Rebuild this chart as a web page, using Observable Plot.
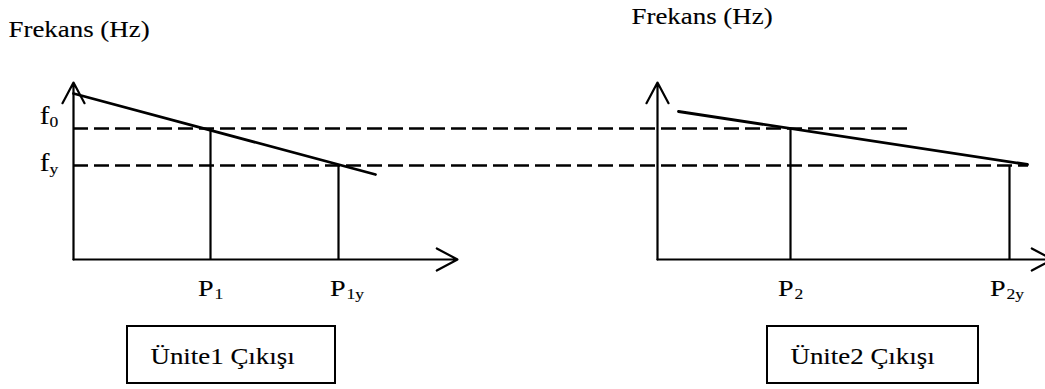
<!DOCTYPE html>
<html><head><meta charset="utf-8">
<script src="https://cdn.jsdelivr.net/npm/d3@7"></script>
<script src="https://cdn.jsdelivr.net/npm/@observablehq/plot@0.6"></script>
<style>html,body{margin:0;padding:0;background:#fff;overflow:hidden}</style>
</head><body><div id="chart"></div><script>
// ---- diagram data (power units along x, frequency units along y; each unit has its own origin) ----
const unitNames = ["Ünite1 Çıkışı", "Ünite2 Çıkışı"];
const axisOrigin = [0, 584];          // power-axis origin of each unit
const axisLength = [384, 395];        // length of each power axis
const axisTop = 177;                  // top of each frequency axis
const yLabel = "Frekans (Hz)";

const freqMain = ["f", "f"];
const freqSubs = ["0", "y"];
const freqValues = [131, 94];         // f0, fy
const freqLineEnd = [840, 955];       // how far each dashed level reaches

const powerUnit = [0, 0, 1, 1];
const powerSubs = ["1", "1y", "2", "2y"];
const powerValues = [137, 265, 133, 352]; // P1, P1y, P2, P2y (relative to own origin)
const powerLevel = [0, 1, 0, 1];          // index into freqValues

const droopUnit = [0, 0, 1, 1];
const droopP = [0, 302, 21, 370];
const droopF = [166, 85, 148, 95];

// ---- layout constants ----
const titleX = [-65, 558], titleY = [223, 236];
const boxLeft = [54, 694], boxWidth = [208, 211], boxTop = -67, boxBottom = -124;
const freqLabelShift = [5, -5];
const powerLabelNudge = [3, 7, 3, -4];
const font = "'Liberation Serif', 'Times New Roman', Times, serif";
const txt = {fontFamily: font, fill: "black", stroke: "black", strokeWidth: 0.12, lineAnchor: "bottom"};

const axisRows = unitNames.map((u, i) => ({origin: axisOrigin[i], len: axisLength[i]}));
const freqRows = freqValues.map((v, i) => ({f: v, x1: axisOrigin[0], x2: freqLineEnd[i], main: freqMain[i], sub: freqSubs[i], shift: freqLabelShift[i]}));
const powerRows = powerValues.map((p, i) => ({x: axisOrigin[powerUnit[i]] + p, f: freqValues[powerLevel[i]], sub: powerSubs[i], nudge: powerLabelNudge[i]}));
const droopRows = droopP.map((p, i) => ({unit: droopUnit[i], x: axisOrigin[droopUnit[i]] + p, f: droopF[i]}));
const titleRows = unitNames.map((u, i) => ({x: titleX[i], y: titleY[i], text: yLabel}));
const boxRows = unitNames.map((u, i) => ({left: boxLeft[i], w: boxWidth[i], name: u}));

const chart = Plot.plot({
  width: 1045, height: 389, margin: 0,
  x: {domain: [-73, 972], range: [0, 1045], axis: null},
  y: {domain: [-130, 259], range: [389, 0], axis: null},
  style: {background: "white", fontFamily: font, overflow: "hidden"},
  marks: [
    // dashed frequency levels
    Plot.ruleY(freqRows, {y: "f", x1: "x1", x2: "x2", stroke: "black", strokeWidth: 2.3, strokeDasharray: "15,6"}),
    // drop lines at operating powers
    Plot.ruleX(powerRows, {x: "x", y1: () => 0, y2: "f", stroke: "black", strokeWidth: 2.2}),
    // axes with arrows
    Plot.arrow(axisRows, {x1: "origin", y1: () => 0, x2: "origin", y2: () => axisTop, stroke: "black", strokeWidth: 2.2, headAngle: 56, headLength: 16}),
    Plot.arrow(axisRows, {x1: "origin", y1: () => 0, x2: d => d.origin + d.len, y2: () => 0, stroke: "black", strokeWidth: 2.2, headAngle: 56, headLength: 16}),
    // droop characteristics
    Plot.line(droopRows, {x: "x", y: "f", z: "unit", stroke: "black", strokeWidth: 2.8}),
    // axis titles
    Plot.text(titleRows, {...txt, x: "x", y: "y", text: "text", textAnchor: "start", fontSize: 23}),
    // frequency labels
    Plot.text(freqRows, {...txt, x: () => -24, y: d => d.f + d.shift, text: "main", textAnchor: "end", fontSize: 25}),
    Plot.text(freqRows, {...txt, x: () => -24, y: d => d.f + d.shift - 3, text: "sub", textAnchor: "start", fontSize: 15}),
    // power labels
    Plot.text(powerRows, {...txt, x: d => d.x + d.nudge, y: () => -36, text: () => "P", textAnchor: "end", fontSize: 24}),
    Plot.text(powerRows, {...txt, x: d => d.x + d.nudge + 1, y: () => -39, text: "sub", textAnchor: "start", fontSize: 15}),
    // unit boxes
    Plot.rect(boxRows, {x1: "left", x2: d => d.left + d.w, y1: () => boxTop, y2: () => boxBottom, fill: "none", stroke: "black", strokeWidth: 2}),
    Plot.text(boxRows, {...txt, x: d => d.left + 23, y: () => -104, text: "name", textAnchor: "start", fontSize: 23})
  ]
});
chart.querySelectorAll("text").forEach(t => {
  const tr = t.getAttribute("transform") || "";
  t.setAttribute("transform", tr + " scale(1.17,1)");
});
document.getElementById("chart").appendChild(chart);
</script></body></html>
